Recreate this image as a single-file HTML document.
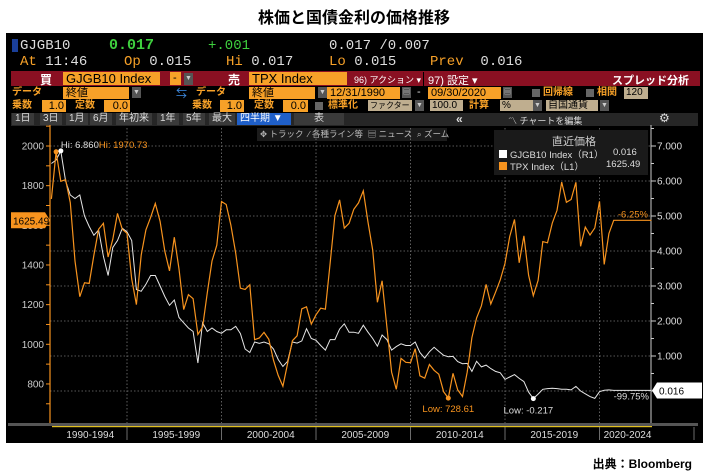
<!DOCTYPE html>
<html><head><meta charset="utf-8">
<style>
*{margin:0;padding:0;box-sizing:border-box}
body{width:708px;height:476px;background:#fff;position:relative;overflow:hidden;font-family:"Liberation Sans","Noto Sans CJK JP",sans-serif}
.a{position:absolute;white-space:nowrap}
#panel{position:absolute;left:6px;top:33px;width:697px;height:410px;background:#000}
.mono{font-family:"Liberation Mono","Noto Sans CJK JP",monospace}
.ob{background:#f7a128;color:#000;font-size:11px;height:12px;line-height:12px;padding-left:3px}
.tb{background:#bfae8f;color:#000;font-size:10px;height:11px;line-height:11px;padding-left:2px}
.lb{color:#f7a128;font-size:10px;line-height:12px;font-weight:bold}
.dd{background:#555;color:#ccc;font-size:7px;width:9px;height:11px;line-height:11px;text-align:center}
.tab{background:#3a3a3a;color:#ddd;font-size:10px;height:12px;line-height:12px;padding:0 3px}
.ck{background:#666;width:8px;height:8px}
</style></head><body>
<div class="a" style="left:0;width:708px;text-align:center;top:4px;font-size:16px;font-weight:bold;color:#000">株価と国債金利の価格推移</div>
<div id="panel"></div>
<div class="a" style="right:16px;top:455px;font-size:12px;font-weight:bold;color:#000">出典：Bloomberg</div>

<div class="a" style="left:12px;top:39px;width:6px;height:13px;background:#1a3f99"></div>
<div class="a mono" style="left:20px;top:38px;font-size:14px;color:#ddd">GJGB10</div>
<div class="a mono" style="left:109px;top:37px;font-size:15px;font-weight:bold;color:#3ecf3e">0.017</div>
<div class="a mono" style="left:208px;top:38px;font-size:14px;color:#3ecf3e">+.001</div>
<div class="a mono" style="left:329px;top:38px;font-size:14px;color:#ddd">0.017 /0.007</div>
<div class="a mono" style="left:20px;top:54px;font-size:14px;color:#ddd"><span style="color:#f7a128">At</span> 11:46</div>
<div class="a mono" style="left:124px;top:54px;font-size:14px;color:#ddd"><span style="color:#f7a128">Op</span> 0.015</div>
<div class="a mono" style="left:226px;top:54px;font-size:14px;color:#ddd"><span style="color:#f7a128">Hi</span> 0.017</div>
<div class="a mono" style="left:329px;top:54px;font-size:14px;color:#ddd"><span style="color:#f7a128">Lo</span> 0.015</div>
<div class="a mono" style="left:430px;top:54px;font-size:14px;color:#ddd"><span style="color:#f7a128">Prev</span>&nbsp; 0.016</div>

<div class="a" style="left:11px;top:71px;width:689px;height:15px;background:#8a1022"></div>
<div class="a" style="left:40px;top:71px;font-size:12px;color:#fff;font-weight:bold">買</div>
<div class="a ob" style="left:63px;top:72px;width:97px;height:13px;font-size:13px;line-height:13px">GJGB10 Index</div>
<div class="a ob" style="left:170px;top:72px;width:11px;height:13px">-</div>
<div class="a dd" style="left:184px;top:73px;height:12px">▼</div>
<div class="a" style="left:228px;top:71px;font-size:12px;color:#fff;font-weight:bold">売</div>
<div class="a ob" style="left:249px;top:72px;width:98px;height:13px;font-size:13px;line-height:13px">TPX Index</div>
<div class="a" style="left:354px;top:73px;font-size:9px;color:#fff">96) アクション ▾</div>
<div class="a" style="left:423px;top:72px;font-size:11px;color:#fff;border-left:1px solid #000;padding-left:4px">97) 設定 ▾</div>
<div class="a" style="left:612px;top:72px;font-size:11px;color:#fff;font-weight:bold">スプレッド分析</div>

<div class="a lb" style="left:12px;top:87px">データ</div>
<div class="a ob" style="left:63px;top:87px;width:66px">終値</div>
<div class="a dd" style="left:132px;top:87px">▼</div>
<div class="a" style="left:176px;top:85px;font-size:11px;color:#3f8fe8">⇆</div>
<div class="a lb" style="left:196px;top:87px">データ</div>
<div class="a ob" style="left:249px;top:87px;width:66px">終値</div>
<div class="a dd" style="left:318px;top:87px">▼</div>
<div class="a ob" style="left:327px;top:87px;width:73px">12/31/1990</div>
<div class="a dd" style="left:402px;top:87px">▤</div>
<div class="a" style="left:417px;top:86px;font-size:11px;color:#ddd">-</div>
<div class="a ob" style="left:428px;top:87px;width:73px">09/30/2020</div>
<div class="a dd" style="left:503px;top:87px">▤</div>
<div class="a ck" style="left:532px;top:89px"></div>
<div class="a lb" style="left:543px;top:87px">回帰線</div>
<div class="a ck" style="left:586px;top:89px"></div>
<div class="a lb" style="left:597px;top:87px">相関</div>
<div class="a tb" style="left:624px;top:87px;width:24px;height:12px">120</div>

<div class="a lb" style="left:12px;top:100px">乗数</div>
<div class="a ob" style="left:42px;top:100px;width:24px;text-align:right;padding-right:2px">1.0</div>
<div class="a lb" style="left:75px;top:100px">定数</div>
<div class="a ob" style="left:104px;top:100px;width:26px;text-align:right;padding-right:2px">0.0</div>
<div class="a lb" style="left:192px;top:100px">乗数</div>
<div class="a ob" style="left:220px;top:100px;width:24px;text-align:right;padding-right:2px">1.0</div>
<div class="a lb" style="left:254px;top:100px">定数</div>
<div class="a ob" style="left:283px;top:100px;width:25px;text-align:right;padding-right:2px">0.0</div>
<div class="a ck" style="left:315px;top:102px"></div>
<div class="a lb" style="left:328px;top:100px">標準化</div>
<div class="a tb" style="left:368px;top:100px;width:44px;font-size:8px">ファクター</div>
<div class="a dd" style="left:415px;top:100px">▼</div>
<div class="a tb" style="left:430px;top:100px;width:33px">100.0</div>
<div class="a lb" style="left:469px;top:100px">計算</div>
<div class="a tb" style="left:500px;top:100px;width:40px">%</div>
<div class="a dd" style="left:533px;top:100px">▼</div>
<div class="a tb" style="left:546px;top:100px;width:52px">自国通貨</div>
<div class="a dd" style="left:600px;top:100px">▼</div>

<div class="a" style="left:11px;top:113px;width:687px;height:13px;background:#262626"></div>
<div class="a tab" style="left:12px;top:113px">1日</div>
<div class="a tab" style="left:40px;top:113px">3日</div>
<div class="a tab" style="left:66px;top:113px">1月</div>
<div class="a tab" style="left:90px;top:113px">6月</div>
<div class="a tab" style="left:116px;top:113px">年初来</div>
<div class="a tab" style="left:157px;top:113px">1年</div>
<div class="a tab" style="left:183px;top:113px">5年</div>
<div class="a tab" style="left:209px;top:113px">最大</div>
<div class="a tab" style="left:237px;top:113px;width:54px;background:#1f5fc8;color:#fff">四半期 ▼</div>
<div class="a tab" style="left:294px;top:113px;width:50px;text-align:center">表</div>
<div class="a" style="left:456px;top:112px;font-size:12px;color:#ddd;font-weight:bold">«</div>
<div class="a" style="left:508px;top:114px;font-size:9px;color:#ddd">〽 チャートを編集</div>
<div class="a" style="left:659px;top:111px;font-size:12px;color:#ddd">⚙</div>

<div class="a" style="left:257px;top:128px;width:190px;height:13px;background:#1c1c1c;font-size:8.5px;color:#bbb;line-height:13px;padding-left:3px">
<span>✥ トラック</span>&nbsp;&nbsp;<span>⁄ 各種ライン等</span>&nbsp;&nbsp;<span>▤ ニュース</span>&nbsp;&nbsp;<span>⌕ ズーム</span></div>

<svg id="chart" class="a" style="left:0;top:0" width="708" height="476"></svg>

<div class="a" style="left:494px;top:130px;width:154px;height:45px;background:#1a1a1a"></div>
<div class="a" style="left:552px;top:133px;font-size:11px;color:#ccc">直近価格</div>
<div class="a" style="left:499px;top:147px;font-size:9.5px;color:#ddd"><span style="display:inline-block;width:8px;height:8px;background:#fff;margin-right:3px"></span>GJGB10 Index（R1）<span style="position:absolute;left:114px">0.016</span></div>
<div class="a" style="left:499px;top:159px;font-size:9.5px;color:#ddd"><span style="display:inline-block;width:8px;height:8px;background:#f7931e;margin-right:3px"></span>TPX Index（L1）<span style="position:absolute;left:107px">1625.49</span></div>

<script>
const tpx=[1733,1970.73,1822,1830,1714,1420,1240,1310,1307,1450,1580,1610,1440,1530,1660,1580,1560,
1330,1200,1450,1577,1640,1710,1620,1470,1370,1540,1380,1175,1250,1230,1050,1087,1260,1420,1500,1720,
1705,1600,1460,1283,1277,1300,1023,1032,1060,1025,920,843,788,903,1018,1043,1179,1189,1102,1149,
1182,1177,1412,1649,1728,1586,1610,1681,1713,1774,1616,1475,1212,1320,1087,860,773,929,909,907,
978,841,829,898,869,849,761,728.61,854,770,737,860,1034,1133,1194,1302,1203,1262,1326,1408,
1543,1630,1411,1547,1348,1245,1322,1518,1512,1611,1675,1818,1716,1730,1817,1494,1591,1551,1587,1721,
1403,1558,1625.49];
const jgb=[6.5,6.6,6.86,6.0,5.6,5.5,5.6,5.0,4.7,4.45,4.6,3.85,3.3,4.1,4.3,4.65,4.55,
4.3,2.9,2.85,3.05,3.3,3.3,3.0,2.7,2.45,2.6,2.1,1.95,1.8,1.7,0.8,1.95,1.7,1.8,1.7,1.65,
1.75,1.75,1.85,1.64,1.2,1.1,1.4,1.36,1.4,1.35,1.2,0.9,0.7,0.85,1.4,1.37,1.43,1.78,1.5,1.45,
1.3,1.17,1.47,1.47,1.77,1.92,1.68,1.68,1.65,1.88,1.68,1.5,1.28,1.6,1.47,1.17,1.27,1.35,1.3,1.3,
1.4,1.1,0.94,1.12,1.25,1.13,1.02,0.98,0.99,0.84,0.78,0.79,0.56,0.85,0.69,0.74,0.64,0.56,0.52,0.33,
0.4,0.47,0.36,0.27,-0.03,-0.217,-0.09,0.05,0.07,0.08,0.07,0.05,0.05,0.03,0.13,0.0,-0.08,-0.16,-0.21,-0.02,
0.02,0.03,0.016];
const leftTicks=[800,1000,1200,1400,1600,1800,2000];
const rightTicks=[1,2,3,4,5,6,7];
const periodLabels=["1990-1994","1995-1999","2000-2004","2005-2009","2010-2014","2015-2019","2020-2024"];
const periodStarts=[1990,1995,2000,2005,2010,2015,2020];
const startYear=1991, endExt=2022.75;

const NS="http://www.w3.org/2000/svg", svg=document.getElementById('chart');
const xT=t=>32.5+(t-1990)*18.9;
const yL=v=>146+(2000-v)*0.1983;
const yR=v=>391-v*35;
const tOf=i=>startYear+i*0.25;
function mk(tag,at,parent){const e=document.createElementNS(NS,tag);for(const k in at)e.setAttribute(k,at[k]);(parent||svg).appendChild(e);return e;}
function tx(x,y,s,fill,size,anchor){const e=mk('text',{x:x,y:y,fill:fill,'font-size':size,'text-anchor':anchor||'start','font-family':'Liberation Sans, sans-serif'});e.textContent=s;return e;}

rightTicks.concat([0]).forEach(v=>{
 const g=mk('line',{x1:50,x2:651,y1:yR(v),y2:yR(v),stroke:'#777','stroke-width':0.8,'stroke-dasharray':'1.5,2'});
 
 
});
periodStarts.slice(1).forEach(p=>{
 const g=mk('line',{x1:xT(p),x2:xT(p),y1:128,y2:424,stroke:'#777','stroke-width':0.8,'stroke-dasharray':'1.5,2'});
 
 
});
const la=mk('line',{x1:50,x2:50,y1:125,y2:424,stroke:'#f7931e','stroke-width':1.2});


for(let v=700;v<=2100;v+=100){mk('line',{x1:46,x2:50,y1:yL(v),y2:yL(v),stroke:'#f7931e','stroke-width':1});}
leftTicks.forEach(v=>{
 const t=tx(44,yL(v)+3.5,v,'#ccc',10,'end');
 
 
});
const ra=mk('line',{x1:651,x2:651,y1:125,y2:424,stroke:'#ccc','stroke-width':1});


for(let v=0;v<=7.5;v+=0.5){mk('line',{x1:651,x2:v%1?654:656,y1:yR(v),y2:yR(v),stroke:'#ccc','stroke-width':1});}
rightTicks.forEach(v=>{
 const t=tx(657,yR(v)+3.5,v.toFixed(3),'#ddd',10);
 
 
});
function path(arr,yf){let d='';arr.forEach((v,i)=>{d+=(i?'L':'M')+xT(tOf(i)).toFixed(1)+','+yf(v).toFixed(1);});d+='L'+xT(endExt)+','+yf(arr[arr.length-1]).toFixed(1);return d;}
const pj=mk('path',{d:path(jgb,yR),fill:'none',stroke:'#e6e6e6','stroke-width':1});


const pt=mk('path',{d:path(tpx,yL),fill:'none',stroke:'#f7931e','stroke-width':1.2});


function marker(arr,yf,fn,col,name){const v=fn(...arr),i=arr.indexOf(v);const c=mk('circle',{cx:xT(tOf(i)),cy:yf(v),r:2.5,fill:col});return {x:xT(tOf(i)),y:yf(v),v:v};}
const th=marker(tpx,yL,Math.max,'#f7931e','topix-high-marker');
const jh=marker(jgb,yR,Math.max,'#fff','jgb-high-marker');
const tl=marker(tpx,yL,Math.min,'#f7931e','topix-low-marker');
const jl=marker(jgb,yR,Math.min,'#fff','jgb-low-marker');
let e=tx(jh.x,jh.y-3,'Hi: '+jh.v.toFixed(3),'#ddd',9.5);
e=tx(jh.x+38,jh.y-3,'Hi: '+th.v.toFixed(2),'#f7931e',9.5);
e=tx(tl.x,tl.y+14,'Low: '+tl.v.toFixed(2),'#f7931e',9.5,'middle');
e=tx(jl.x-5,jl.y+15,'Low: '+jl.v.toFixed(3),'#ddd',9.5,'middle');
e=tx(648,yL(tpx[tpx.length-1])-3,'-6.25%','#f7931e',9.5,'end');
e=tx(649,yR(jgb[jgb.length-1])+9,'-99.75%','#ddd',9.5,'end');
const lt=yL(tpx[tpx.length-1]);
let g=mk('path',{d:`M11,${lt-8}H45L50,${lt}L45,${lt+8}H11Z`,fill:'#f7931e'});
tx(13,lt+4,tpx[tpx.length-1].toFixed(2),'#000',10);
const rt=yR(jgb[jgb.length-1]);
g=mk('path',{d:`M652,${rt}L657,${rt-8}H702V${rt+8}H657Z`,fill:'#fff'});
tx(659,rt+4,jgb[jgb.length-1].toFixed(3),'#000',10);
g=mk('rect',{x:8,y:423,width:690,height:3,fill:'#555'});
mk('rect',{x:52,y:426,width:600,height:1.2,fill:'#e0c020'});
periodLabels.forEach((s,i)=>{
 const a=Math.max(periodStarts[i],1990.9),b=Math.min(periodStarts[i]+5,endExt);
 const t=tx((xT(a)+xT(b))/2+2,438,s,'#ddd',10,'middle');
 
 
 mk('line',{x1:xT(periodStarts[i]+5),x2:xT(periodStarts[i]+5),y1:427,y2:440,stroke:'#888','stroke-width':0.8});
});
</script>
</body></html>
